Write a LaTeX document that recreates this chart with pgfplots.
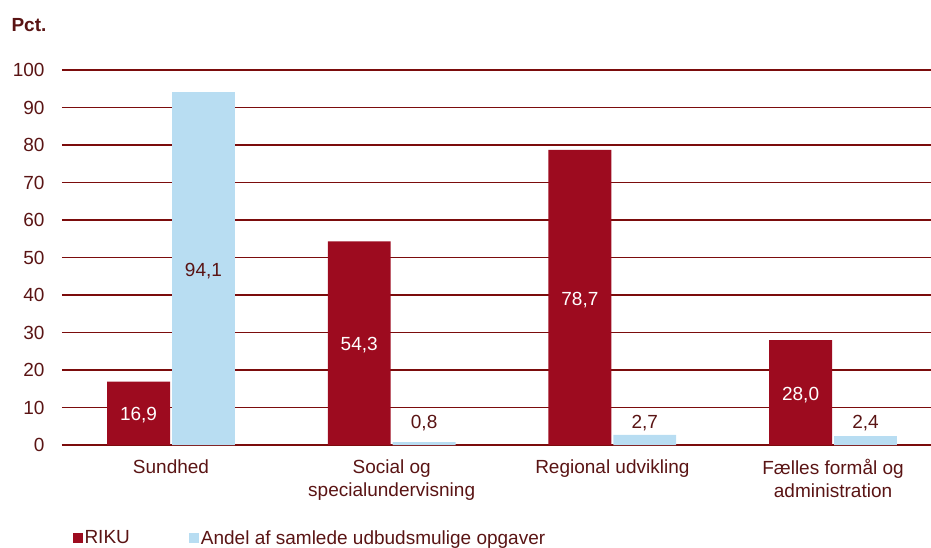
\documentclass[border=0pt]{standalone}
\usepackage{pgfplots}
\pgfplotsset{compat=1.18}
\usepackage{fontspec}
\setmainfont{Liberation Sans}
\definecolor{riku}{HTML}{9D0B1F}
\definecolor{lblue}{HTML}{B8DDF2}
\definecolor{gridred}{HTML}{7B0C0C}
\definecolor{txt}{HTML}{5A1414}
\begin{document}
\begin{tikzpicture}[font=\fontsize{19}{23}\selectfont]
\path[use as bounding box] (-62pt,-102pt) rectangle (869pt,445pt);
\begin{axis}[
  at={(0pt,0pt)}, anchor=south west,
  scale only axis, width=869pt, height=375pt,
  ybar, bar width=0.285, bar shift auto,
  ymin=0, ymax=100, ytick={0,10,...,100},
  xmin=-0.494, xmax=3.444,
  xtick={0,1,2,3},
  xticklabels={Sundhed,{Social og\\specialundervisning},Regional udvikling,{Fælles formål og\\administration}},
  xticklabel style={align=center, text=txt, yshift=-11pt},
  yticklabel style={text=txt, xshift=-14pt},
  /pgf/number format/assume math mode=true,
  major tick length=0pt,
  axis x line*=bottom, axis y line*=left,
  x axis line style={gridred, line width=1.5pt, -},
  y axis line style={draw=none},
  ymajorgrids, major grid style={gridred, line width=1.5pt},
  clip=false,
  nodes near coords,
  point meta=y,
  visualization depends on={rawy \as \rawy},
  every node near coord/.append style={anchor=center,
     /pgf/number format/.cd, use comma, fixed, fixed zerofill, precision=1, assume math mode=true,
     /tikz/.cd, shift={(axis direction cs:0,{ifthenelse(\rawy>10,-\rawy/2-0.6,5.9-\rawy)})}},
  legend style={draw=none, fill=none, at={(0.009,-0.248)}, anchor=west, legend columns=2,
     /tikz/every even column/.append style={column sep=58pt},
     nodes={inner sep=1.5pt, text=txt}},
  legend image code/.code={\fill[#1] (0pt,-5pt) rectangle (10pt,5pt);},
]
\addplot[fill=riku, draw=none, nodes near coords style={text=white}] coordinates {(0,16.9) (1,54.3) (2,78.7) (3,28.0)};
\addlegendentry{RIKU}
\addplot[fill=lblue, draw=none, nodes near coords style={text=txt}] coordinates {(0,94.1) (1,0.8) (2,2.7) (3,2.4)};
\addlegendentry{Andel af samlede udbudsmulige opgaver}
\end{axis}
\node[anchor=west, text=txt, font=\fontsize{19}{23}\selectfont\bfseries] at (-54pt,420pt) {Pct.};
\end{tikzpicture}
\end{document}
